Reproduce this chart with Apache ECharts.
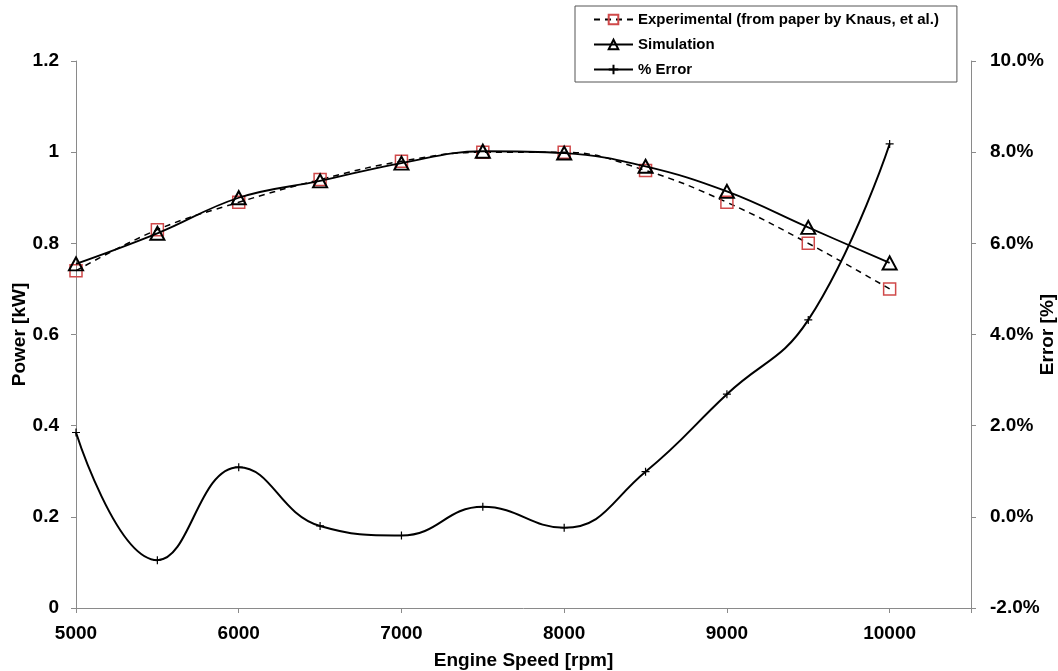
<!DOCTYPE html>
<html>
<head>
<meta charset="utf-8">
<script src="https://cdn.jsdelivr.net/npm/echarts@6/dist/echarts.min.js"></script>
<style>html,body{margin:0;padding:0;background:#fff}#c{width:1058px;height:671px}</style>
</head>
<body>
<div id="c"></div>
<script>
var engineSpeed = [5000, 5500, 6000, 6500, 7000, 7500, 8000, 8500, 9000, 9500, 10000];
var experimental = [0.74, 0.83, 0.89, 0.94, 0.98, 1.0, 1.0, 0.96, 0.89, 0.80, 0.70];
var simulation = [0.755, 0.822, 0.90, 0.937, 0.976, 1.002, 0.998, 0.969, 0.914, 0.835, 0.757];
var errorPct = [1.85, -0.95, 1.09, -0.2, -0.41, 0.22, -0.24, 0.99, 2.69, 4.32, 8.18];

function pairs(ys) { return engineSpeed.map(function (x, i) { return [x, ys[i]]; }); }

var FONT = 'Liberation Sans, Arial, sans-serif';
var axisLineStyle = { color: '#8a8a8a', width: 1 };
var labelStyle = { color: '#000', fontWeight: 'bold', fontSize: 19, fontFamily: FONT };
var nameStyle = { color: '#000', fontWeight: 'bold', fontSize: 19, fontFamily: FONT };

var chart = echarts.init(document.getElementById('c'), null, { renderer: 'canvas' });
chart.setOption({
  animation: false,
  backgroundColor: '#fff',
  grid: { left: 76, right: 87, top: 61, bottom: 63, containLabel: false, outerBoundsMode: 'none' },
  legend: {
    orient: 'vertical',
    left: 575,
    top: 6,
    padding: [6, 18, 5, 18],
    itemWidth: 39,
    itemHeight: 12,
    itemGap: 10,
    borderColor: '#555',
    borderWidth: 1,
    textStyle: { color: '#000', fontWeight: 'bold', fontSize: 15, fontFamily: FONT },
    data: ['Experimental (from paper by Knaus, et al.)', 'Simulation', '% Error']
  },
  xAxis: {
    type: 'value',
    min: 5000, max: 10500, interval: 1000,
    name: 'Engine Speed [rpm]', nameLocation: 'middle', nameGap: 43, nameMoveOverlap: false, nameTextStyle: nameStyle,
    axisLine: { show: true, lineStyle: axisLineStyle },
    axisTick: { show: true, inside: false, length: 5, lineStyle: axisLineStyle },
    axisLabel: Object.assign({}, labelStyle, {
      margin: 16,
      formatter: function (v) { return v > 10000 ? '' : String(v); }
    }),
    splitLine: { show: false }
  },
  yAxis: [{
    type: 'value', position: 'left',
    min: 0, max: 1.2, interval: 0.2,
    name: 'Power [kW]', nameLocation: 'middle', nameRotate: 90, nameGap: 47, nameMoveOverlap: false, nameTextStyle: nameStyle,
    axisLine: { show: true, lineStyle: axisLineStyle },
    axisTick: { show: true, length: 5, lineStyle: axisLineStyle },
    axisLabel: Object.assign({}, labelStyle, {
      margin: 17,
      formatter: function (v) { return String(Math.round(v * 10) / 10); }
    }),
    splitLine: { show: false }
  }, {
    type: 'value', position: 'right',
    min: -2, max: 10, interval: 2,
    name: 'Error [%]', nameLocation: 'middle', nameRotate: 90, nameGap: 67, nameMoveOverlap: false, nameTextStyle: nameStyle,
    axisLine: { show: true, lineStyle: axisLineStyle },
    axisTick: { show: true, length: 5, lineStyle: axisLineStyle },
    axisLabel: Object.assign({}, labelStyle, {
      margin: 19,
      formatter: function (v) { return v.toFixed(1) + '%'; }
    }),
    splitLine: { show: false }
  }],
  series: [{
    name: 'Experimental (from paper by Knaus, et al.)',
    type: 'line', yAxisIndex: 0, smooth: 0.4,
    data: pairs(experimental),
    symbol: 'rect', symbolSize: 12,
    lineStyle: { color: '#000', width: 1.5, type: [6, 5] },
    itemStyle: { color: 'rgba(255,255,255,0)', borderColor: '#d0494a', borderWidth: 1.5 },
    z: 2
  }, {
    name: 'Simulation',
    type: 'line', yAxisIndex: 0, smooth: 0.4,
    data: pairs(simulation),
    symbol: 'triangle', symbolSize: [14, 13],
    lineStyle: { color: '#000', width: 1.8 },
    itemStyle: { color: 'rgba(255,255,255,0)', borderColor: '#000', borderWidth: 2 },
    z: 3
  }, {
    name: '% Error',
    type: 'line', yAxisIndex: 1, smooth: 0.45,
    data: pairs(errorPct),
    symbol: 'path://M5,0L5,10M0,5L10,5', symbolSize: 8,
    lineStyle: { color: '#000', width: 2 },
    itemStyle: { color: 'rgba(0,0,0,0)', borderColor: '#000', borderWidth: 1.2 },
    z: 4
  }]
});
</script>
</body>
</html>
